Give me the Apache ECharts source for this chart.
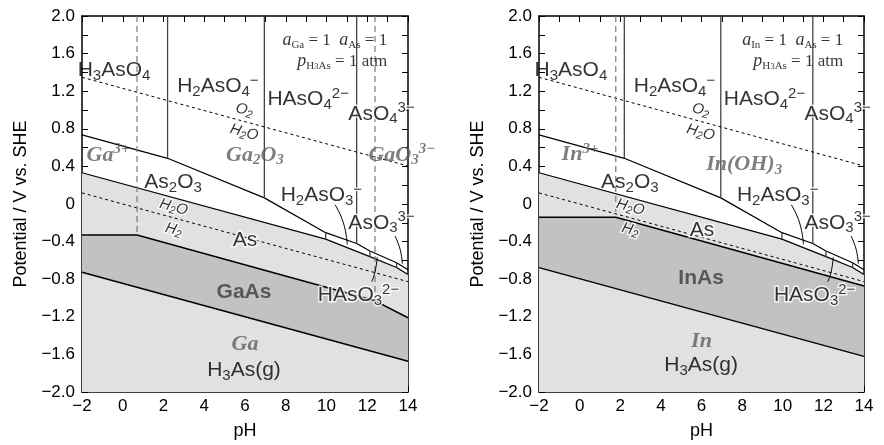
<!DOCTYPE html>
<html>
<head>
<meta charset="utf-8">
<script src="https://cdn.jsdelivr.net/npm/echarts@6/dist/echarts.min.js"></script>
<style>
    html, body { margin: 0; padding: 0; background: #fff; }
    #chart { width: 884px; height: 445px; }
</style>
</head>
<body>
<div id="chart"></div>
<script>
    // axis ranges
    var phMin = -2, phMax = 14;
    var eMin = -2, eMax = 2;

    // water stability lines
    var o2Line = [[-2, 1.348], [14, 0.404]];
    var h2Line = [[-2, 0.118], [14, -0.826]];

    // As(V)/As(III) boundary and As(III)/As boundary (same on both panels)
    var asUpper = [[-2, 0.736], [2.2, 0.486], [6.95, 0.065], [9.96, -0.305], [11.48, -0.42], [12.13, -0.50], [13.44, -0.625], [14, -0.70]];
    var asLower = [[-2, 0.332], [9.96, -0.374], [12.13, -0.56], [13.44, -0.675], [14, -0.75]];
    // vertical boundaries: [pH, E top, E bottom]
    var asVerticals = [[2.2, 2.0, 0.486], [6.95, 2.0, 0.065], [11.48, 2.0, -0.42], [9.96, -0.305, -0.374], [12.13, -0.50, -0.56], [13.44, -0.625, -0.675]];
    // leader lines for the small As(III) fields
    var leaders = [
        [[10.42, -0.008], [10.83, -0.2], [11.02, -0.43]],
        [[13.36, -0.34], [13.61, -0.48], [13.72, -0.635]],
        [[12.49, -0.566], [12.38, -0.723], [12.22, -0.827]]
    ];

    // Ga panel
    var gaasTop = [[-2, -0.33], [0.7, -0.33], [12.38, -1.03], [14, -1.21]];
    var gaasBottom = [[-2, -0.726], [14, -1.673]];
    var gaDashed = [[0.7, 2.0, -0.33], [12.38, 2.0, -1.03]];

    // In panel
    var inasTop = [[-2, -0.14], [1.78, -0.14], [14, -0.872]];
    var inasBottom = [[-2, -0.677], [14, -1.621]];
    var inDashed = [[1.78, 2.0, -0.14]];

    // labels: [pH, E, text, kind, rotate]
    var asLabels = [
        [-0.43, 1.42, '{m|H}{s|3}{m|AsO}{s|4}', 'plain'],
        [4.67, 1.25, '{m|H}{s|2}{m|AsO}{s|4}{p|−}', 'plain'],
        [9.1, 1.11, '{m|HAsO}{s|4}{p|2−}', 'plain'],
        [12.7, 0.96, '{m|AsO}{s|4}{p|3−}', 'halo'],
        [2.47, 0.235, '{m|As}{s|2}{m|O}{s|3}', 'plain'],
        [9.75, 0.09, '{m|H}{s|2}{m|AsO}{s|3}{p|−}', 'halo'],
        [12.7, -0.2, '{m|AsO}{s|3}{p|3−}', 'halo'],
        [11.57, -0.97, '{m|HAsO}{s|3}{p|2−}', 'halo'],
        [5.97, 1.0, '{w|O}{ws|2}', 'water', -15.5],
        [5.96, 0.76, '{w|H}{ws|2}{w|O}', 'water', -15.5],
        [2.5, -0.035, '{w|H}{ws|2}{w|O}', 'water', -15.5],
        [2.5, -0.275, '{w|H}{ws|2}', 'water', -15.5]
    ];
    var gaLabels = [
        [6.0, -0.39, '{m|As}', 'halo'],
        [5.95, -1.77, '{m|H}{s|3}{m|As(g)}', 'plain'],
        [5.95, -0.94, '{b|GaAs}', 'plain'],
        [-0.72, 0.52, '{g|Ga}{gp|3+}', 'plain'],
        [6.49, 0.52, '{g|Ga}{gs|2}{g|O}{gs|3}', 'plain'],
        [13.7, 0.52, '{g|GaO}{gs|3}{gp|3−}', 'plain'],
        [6.0, -1.49, '{g|Ga}', 'plain'],
        [13.0, 1.74, '{ti|a}{ts|Ga}{t| = 1  }{ti|a}{ts|As}{t| = 1}', 'note'],
        [13.0, 1.52, '{ti|p}{ts|H}{tss|3}{ts|As}{t| = 1 atm}', 'note']
    ];
    var inLabels = [
        [6.02, -0.28, '{m|As}', 'halo'],
        [5.98, -1.72, '{m|H}{s|3}{m|As(g)}', 'plain'],
        [5.98, -0.79, '{b|InAs}', 'plain'],
        [0.02, 0.53, '{g|In}{gp|3+}', 'plain'],
        [8.1, 0.42, '{g|In(OH)}{gs|3}', 'plain'],
        [6.0, -1.46, '{g|In}', 'plain'],
        [13.0, 1.74, '{ti|a}{ts|In}{t| = 1  }{ti|a}{ts|As}{t| = 1}', 'note'],
        [13.0, 1.52, '{ti|p}{ts|H}{tss|3}{ts|As}{t| = 1 atm}', 'note']
    ];

    var sans = 'Liberation Sans, Arial, Helvetica, sans-serif';
    var serif = 'Liberation Serif, Times New Roman, serif';
    var light = '#e1e1e1', dark = '#c2c2c2', grey = '#5e5e5e';

    var rich = {
        m: {fontFamily: sans, fontSize: 21, color: '#000', lineHeight: 26},
        s: {fontFamily: sans, fontSize: 15, color: '#000', lineHeight: 15, verticalAlign: 'bottom'},
        p: {fontFamily: sans, fontSize: 15, color: '#000', lineHeight: 15, verticalAlign: 'top'},
        b: {fontFamily: sans, fontSize: 21, fontWeight: 'bold', color: '#3c3c3c', lineHeight: 26},
        w: {fontFamily: sans, fontSize: 15, fontStyle: 'italic', color: '#000', lineHeight: 18},
        ws: {fontFamily: sans, fontSize: 11, fontStyle: 'italic', color: '#000', lineHeight: 11, verticalAlign: 'bottom'},
        g: {fontFamily: serif, fontSize: 22, fontWeight: 'bold', fontStyle: 'italic', color: grey, lineHeight: 26},
        gs: {fontFamily: serif, fontSize: 15, fontWeight: 'bold', fontStyle: 'italic', color: grey, lineHeight: 15, verticalAlign: 'bottom'},
        gp: {fontFamily: serif, fontSize: 15, fontWeight: 'bold', fontStyle: 'italic', color: grey, lineHeight: 15, verticalAlign: 'top'},
        t: {fontFamily: serif, fontSize: 17, color: '#000', lineHeight: 20},
        ti: {fontFamily: serif, fontSize: 18, fontStyle: 'italic', color: '#000', lineHeight: 20},
        ts: {fontFamily: serif, fontSize: 11, color: '#000', lineHeight: 11, verticalAlign: 'bottom'},
        tss: {fontFamily: serif, fontSize: 9, color: '#000', lineHeight: 7, verticalAlign: 'bottom'}
    };

    function lineSeries(xi, yi, data, color, width, type, z, fill) {
        var s = {
            type: 'line', xAxisIndex: xi, yAxisIndex: yi, data: data,
            symbol: 'none', silent: true, z: z,
            lineStyle: {color: color, width: width, type: type}
        };
        if (fill) s.areaStyle = {color: fill, opacity: 1, origin: 'start'};
        return s;
    }

    function labelSeries(xi, yi, list) {
        return {
            type: 'scatter', xAxisIndex: xi, yAxisIndex: yi, z: 20, silent: true,
            symbolSize: 1, itemStyle: {color: 'rgba(0,0,0,0)'},
            data: list.map(function (l) {
                var lab = {show: true, formatter: l[2], rich: rich, position: 'inside'};
                if (l[3] === 'halo' || l[3] === 'water') {
                    lab.textBorderColor = '#fff';
                    lab.textBorderWidth = 3;
                }
                if (l[3] === 'note') {
                    lab.position = 'left';
                    lab.distance = 0;
                }
                if (l[4]) lab.rotate = l[4];
                return {value: [l[0], l[1]], label: lab};
            })
        };
    }

    function panelSeries(xi, yi, top, bottom, dashed, labels) {
        var out = [];
        out.push(lineSeries(xi, yi, asLower, '#000', 1.2, 'solid', 1, light));
        out.push(lineSeries(xi, yi, top, '#000', 1.5, 'solid', 2, dark));
        out.push(lineSeries(xi, yi, bottom, '#000', 1.5, 'solid', 3, light));
        out.push(lineSeries(xi, yi, asUpper, '#000', 1.2, 'solid', 5));
        asVerticals.forEach(function (v) {
            out.push(lineSeries(xi, yi, [[v[0], v[1]], [v[0], v[2]]], '#444', 1.3, 'solid', 5));
        });
        out.push(lineSeries(xi, yi, o2Line, '#000', 1, [3, 3], 6));
        out.push(lineSeries(xi, yi, h2Line, '#000', 1, [3, 3], 6));
        dashed.forEach(function (v) {
            out.push(lineSeries(xi, yi, [[v[0], v[1]], [v[0], v[2]]], '#777', 1.2, [6, 4], 6));
        });
        leaders.forEach(function (l) {
            var s = lineSeries(xi, yi, l, '#000', 1, 'solid', 7);
            s.smooth = true;
            out.push(s);
        });
        out.push(labelSeries(xi, yi, asLabels));
        out.push(labelSeries(xi, yi, labels));
        return out;
    }

    function xAxis(gi, pos) {
        var bottom = pos === 'bottom';
        return {
            type: 'value', gridIndex: gi, position: pos, min: phMin, max: phMax, interval: 2,
            name: bottom ? 'pH' : '', nameLocation: 'middle', nameGap: 30,
            nameTextStyle: {fontFamily: sans, fontSize: 18, color: '#000'},
            axisLine: {show: true, onZero: false, lineStyle: {color: '#000', width: 1.5}},
            axisTick: {show: true, inside: true, length: 6, lineStyle: {color: '#000', width: 1}},
            minorTick: {show: true, splitNumber: 2, length: 6, lineStyle: {color: '#000', width: 1}},
            splitLine: {show: false},
            axisLabel: {
                show: bottom, fontFamily: sans, fontSize: 17, color: '#000', margin: 6,
                formatter: function (v) { return String(v).replace('-', '−'); }
            }
        };
    }

    function yAxis(gi, pos) {
        var left = pos === 'left';
        return {
            type: 'value', gridIndex: gi, position: pos, min: eMin, max: eMax, interval: 0.4,
            name: left ? 'Potential / V vs. SHE' : '', nameLocation: 'middle', nameGap: 52,
            nameTextStyle: {fontFamily: sans, fontSize: 18, color: '#000'},
            axisLine: {show: true, onZero: false, lineStyle: {color: '#000', width: 1.5}},
            axisTick: {show: true, inside: true, length: 6, lineStyle: {color: '#000', width: 1}},
            minorTick: {show: true, splitNumber: 2, length: 6, lineStyle: {color: '#000', width: 1}},
            splitLine: {show: false},
            axisLabel: {
                show: left, fontFamily: sans, fontSize: 17, color: '#000', margin: 7,
                formatter: function (v) {
                    if (Math.abs(v) < 1e-9) return '0';
                    return v.toFixed(1).replace('-', '−');
                }
            }
        };
    }

    var chart = echarts.init(document.getElementById('chart'));
    var option = {
        animation: false,
        backgroundColor: '#fff',
        grid: [
            {left: 82, top: 16, width: 326, height: 383},
            {left: 539, top: 16, width: 325, height: 383}
        ],
        xAxis: [xAxis(0, 'bottom'), xAxis(0, 'top'), xAxis(1, 'bottom'), xAxis(1, 'top')],
        yAxis: [yAxis(0, 'left'), yAxis(0, 'right'), yAxis(1, 'left'), yAxis(1, 'right')],
        series: [].concat(
            panelSeries(0, 0, gaasTop, gaasBottom, gaDashed, gaLabels),
            panelSeries(2, 2, inasTop, inasBottom, inDashed, inLabels)
        )
    };
    chart.setOption(option);
</script>
</body>
</html>
